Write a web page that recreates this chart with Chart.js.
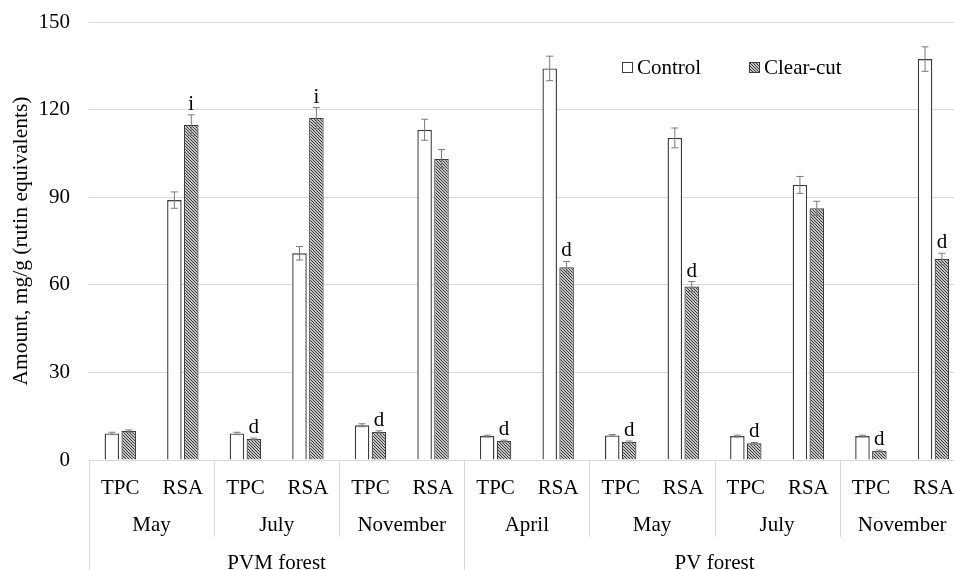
<!DOCTYPE html>
<html>
<head>
<meta charset="utf-8">
<script src="https://cdn.jsdelivr.net/npm/chart.js@4/dist/chart.umd.min.js"></script>
<style>
  html, body { margin: 0; padding: 0; background: #fff; overflow: hidden; }
  #wrap { position: absolute; left: 0; top: 0; width: 970px; height: 570px; }
</style>
</head>
<body>
<div id="wrap"><canvas id="c" width="970" height="570"></canvas></div>
<script>
// Category axis: measure within month, month within forest
const measures = ['TPC', 'RSA', 'TPC', 'RSA', 'TPC', 'RSA', 'TPC', 'RSA', 'TPC', 'RSA', 'TPC', 'RSA', 'TPC', 'RSA'];
const months = ['May', 'July', 'November', 'April', 'May', 'July', 'November'];
const forests = ['PVM forest', 'PV forest'];
const monthsPerForest = [3, 4];

// Amounts, mg/g (rutin equivalents)
const controlValues = [9.1, 89.0, 9.1, 70.8, 11.9, 113.1, 8.2, 134.1, 8.4, 110.3, 8.2, 94.2, 8.2, 137.3];
const clearcutValues = [9.9, 114.7, 7.2, 117.1, 9.6, 103.1, 6.5, 66.0, 6.2, 59.4, 5.7, 86.2, 3.1, 68.8];
const controlErrors = [0.4, 2.8, 0.4, 2.3, 0.5, 3.6, 0.3, 4.2, 0.3, 3.4, 0.3, 2.9, 0.3, 4.2];
const clearcutErrors = [0.4, 3.5, 0.3, 3.6, 0.4, 3.2, 0.3, 2.0, 0.3, 1.7, 0.3, 2.4, 0.3, 2.0];
const clearcutMarks = ['', 'i', 'd', 'i', 'd', '', 'd', 'd', 'd', 'd', 'd', '', 'd', 'd'];

const yTicks = [0, 30, 60, 90, 120, 150];

const SERIF = '"Liberation Serif", "Times New Roman", serif';
const GRID = '#d9d9d9';
const FONT_SIZE = 21;

// Diagonal hatch fill for the clear-cut series
function makeHatch() {
  const s = 3;
  const t = document.createElement('canvas');
  t.width = s; t.height = s;
  const g = t.getContext('2d');
  g.fillStyle = '#c4c4c4';
  g.fillRect(0, 0, s, s);
  g.strokeStyle = '#3a3a3a';
  g.lineWidth = 1;
  g.beginPath();
  g.moveTo(-1, -1); g.lineTo(s + 1, s + 1);
  g.moveTo(-1, s - 1); g.lineTo(1, s + 1);
  g.moveTo(s - 1, -1); g.lineTo(s + 1, 1);
  g.stroke();
  return g.createPattern(t, 'repeat');
}
const hatch = makeHatch();

const errorsByDataset = [controlErrors, clearcutErrors];
const marksByDataset = [null, clearcutMarks];

// Error bars and significance letters
const errorBarPlugin = {
  id: 'errorBars',
  afterDatasetsDraw(chart) {
    const ctx = chart.ctx;
    const y = chart.scales.y;
    chart.data.datasets.forEach((ds, di) => {
      const meta = chart.getDatasetMeta(di);
      const errs = errorsByDataset[di];
      const marks = marksByDataset[di];
      meta.data.forEach((bar, i) => {
        const v = ds.data[i];
        const e = errs[i];
        const yTop = y.getPixelForValue(v + e);
        const yBot = y.getPixelForValue(v - e);
        const x = bar.x;
        ctx.save();
        ctx.strokeStyle = '#7a7a7a';
        ctx.lineWidth = 1;
        ctx.beginPath();
        ctx.moveTo(x, yTop); ctx.lineTo(x, yBot);
        ctx.moveTo(x - 3.5, yTop); ctx.lineTo(x + 3.5, yTop);
        ctx.moveTo(x - 3.5, yBot); ctx.lineTo(x + 3.5, yBot);
        ctx.stroke();
        if (marks && marks[i]) {
          ctx.fillStyle = '#000';
          ctx.font = FONT_SIZE + 'px ' + SERIF;
          ctx.textAlign = 'center';
          ctx.textBaseline = 'alphabetic';
          ctx.fillText(marks[i], x, yTop - 5);
        }
        ctx.restore();
      });
    });
  }
};

// Month and forest rows under the category axis, with separators
const groupAxisPlugin = {
  id: 'groupAxis',
  afterDraw(chart) {
    const ctx = chart.ctx;
    const x = chart.scales.x;
    const area = chart.chartArea;
    const half = (x.getPixelForValue(1) - x.getPixelForValue(0)) / 2;
    const edge = (i) => x.getPixelForValue(i) - half; // left edge of category i
    const monthRowY = area.bottom + 65;
    const forestRowY = area.bottom + 103;
    const monthLineEnd = area.bottom + 77;
    const forestLineEnd = chart.height;

    ctx.save();
    ctx.strokeStyle = GRID;
    ctx.lineWidth = 1;
    // separators between months
    for (let m = 0; m <= months.length; m++) {
      const px = Math.round(edge(m * 2)) + 0.5;
      ctx.beginPath();
      ctx.moveTo(px, area.bottom);
      ctx.lineTo(px, monthLineEnd);
      ctx.stroke();
    }
    // separators between forests
    let start = 0;
    const forestEdges = [0];
    monthsPerForest.forEach((c) => { start += c; forestEdges.push(start); });
    forestEdges.forEach((m) => {
      const px = Math.round(edge(m * 2)) + 0.5;
      ctx.beginPath();
      ctx.moveTo(px, area.bottom);
      ctx.lineTo(px, forestLineEnd);
      ctx.stroke();
    });

    ctx.fillStyle = '#000';
    ctx.font = FONT_SIZE + 'px ' + SERIF;
    ctx.textAlign = 'center';
    ctx.textBaseline = 'middle';
    months.forEach((name, m) => {
      const cx = (x.getPixelForValue(m * 2) + x.getPixelForValue(m * 2 + 1)) / 2;
      ctx.fillText(name, cx, monthRowY);
    });
    forests.forEach((name, f) => {
      const a = forestEdges[f] * 2, b = forestEdges[f + 1] * 2 - 1;
      const cx = (x.getPixelForValue(a) + x.getPixelForValue(b)) / 2;
      ctx.fillText(name, cx, forestRowY);
    });
    ctx.restore();
  }
};

// Legend drawn inside the plot area, top right
const insideLegendPlugin = {
  id: 'insideLegend',
  afterDraw(chart) {
    const ctx = chart.ctx;
    const items = [{ x: 622, y: 62 }, { x: 749, y: 62 }];
    ctx.save();
    ctx.font = FONT_SIZE + 'px ' + SERIF;
    ctx.textBaseline = 'middle';
    ctx.textAlign = 'left';
    chart.data.datasets.forEach((ds, i) => {
      const p = items[i];
      ctx.fillStyle = ds.backgroundColor;
      ctx.fillRect(p.x, p.y, 11, 11);
      ctx.strokeStyle = ds.borderColor;
      ctx.lineWidth = 1;
      ctx.strokeRect(p.x + 0.5, p.y + 0.5, 10, 10);
      ctx.fillStyle = '#000';
      ctx.fillText(ds.label, p.x + 15, p.y + 6);
    });
    ctx.restore();
  }
};

new Chart(document.getElementById('c'), {
  type: 'bar',
  data: {
    labels: measures,
    datasets: [
      {
        label: 'Control',
        data: controlValues,
        backgroundColor: '#ffffff',
        borderColor: '#3c3c3c',
        borderWidth: 1.4,
        categoryPercentage: 0.54,
        barPercentage: 0.86
      },
      {
        label: 'Clear-cut',
        data: clearcutValues,
        backgroundColor: hatch,
        borderColor: '#3c3c3c',
        borderWidth: 1.2,
        categoryPercentage: 0.54,
        barPercentage: 0.86
      }
    ]
  },
  options: {
    responsive: false,
    animation: false,
    devicePixelRatio: 1,
    layout: { autoPadding: false, padding: { left: 0, right: 3, top: 22, bottom: 0 } },
    plugins: {
      legend: { display: false },
      tooltip: { enabled: false }
    },
    scales: {
      x: {
        grid: { display: false, drawTicks: false },
        border: { display: true, color: GRID, width: 1 },
        ticks: {
          color: '#000',
          font: { family: SERIF, size: FONT_SIZE },
          padding: 16,
          maxRotation: 0,
          autoSkip: false
        },
        afterFit(s) { s.height = 110; }
      },
      y: {
        min: 0,
        max: 150,
        afterBuildTicks(s) { s.ticks = yTicks.map((v) => ({ value: v })); },
        grid: { color: GRID, lineWidth: 1, drawTicks: false },
        border: { display: false },
        ticks: {
          color: '#000',
          font: { family: SERIF, size: FONT_SIZE },
          padding: 19
        },
        title: {
          display: true,
          text: 'Amount, mg/g (rutin equivalents)',
          color: '#000',
          font: { family: SERIF, size: 21.5 },
          padding: { top: 8, bottom: 0 }
        },
        afterFit(s) {
          s.width = 89;
          s.paddingTop = 0;
          s.paddingBottom = 0;
        }
      }
    }
  },
  plugins: [errorBarPlugin, groupAxisPlugin, insideLegendPlugin]
});
</script>
</body>
</html>
